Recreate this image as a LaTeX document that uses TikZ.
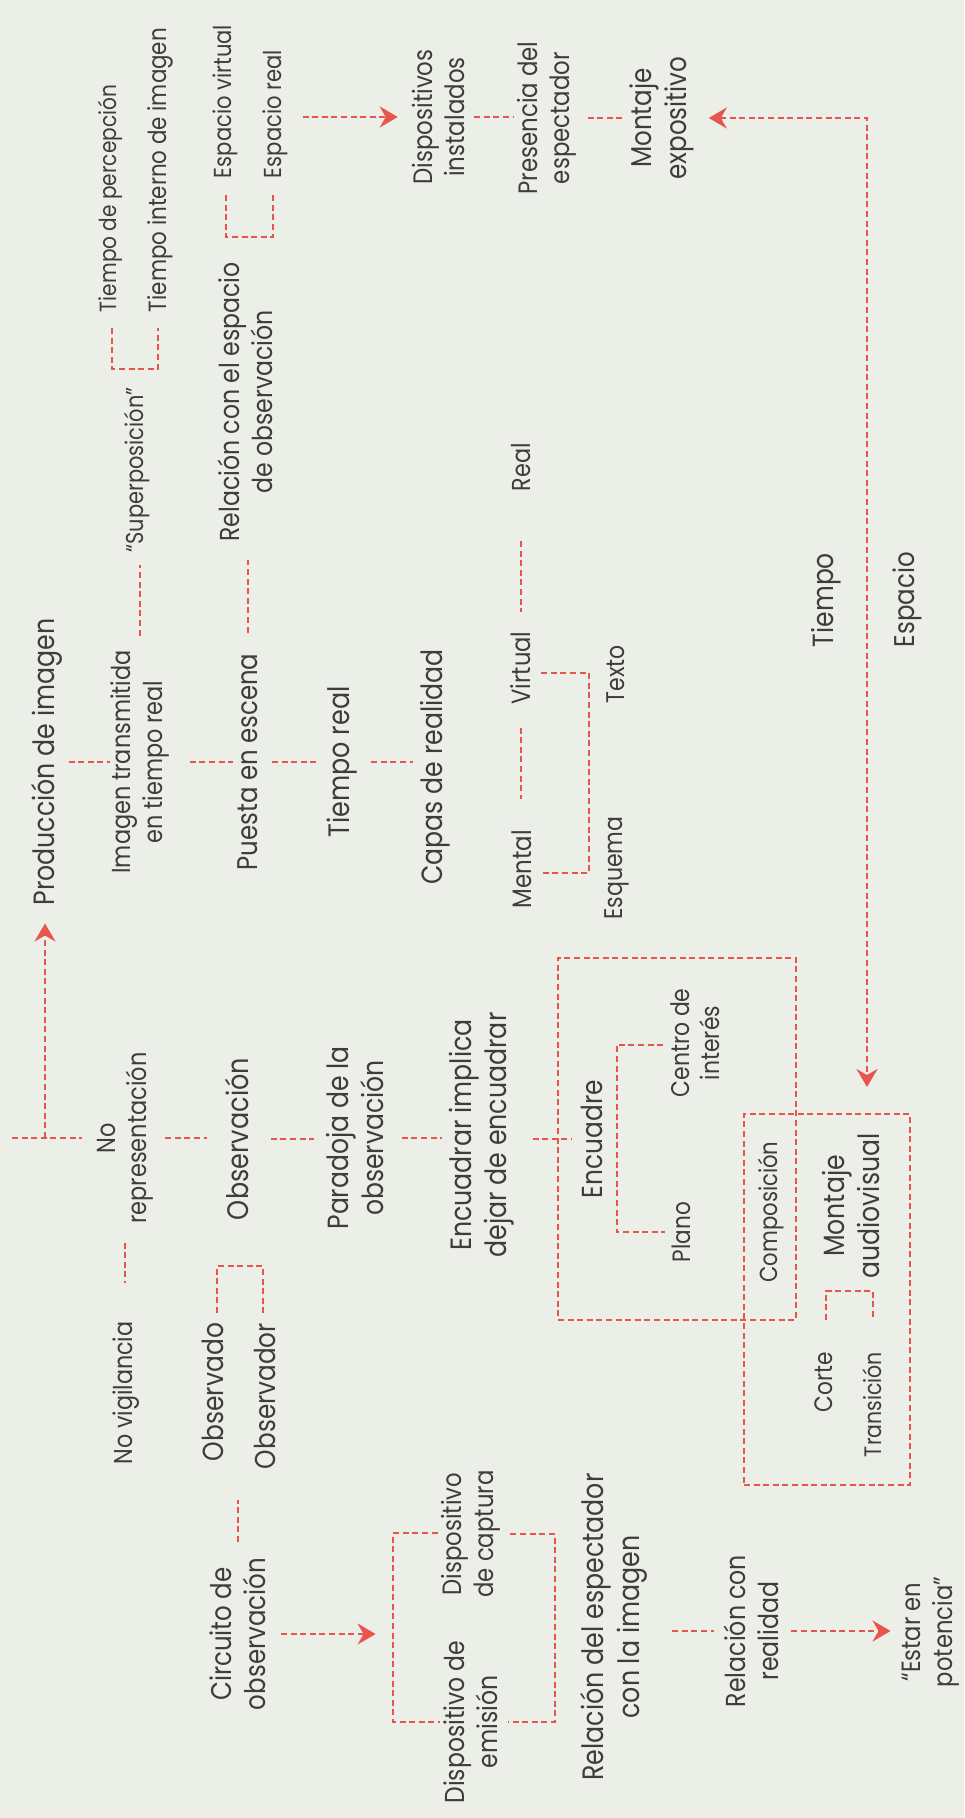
\documentclass[tikz,border=0pt]{standalone}
\usepackage{fontspec}
\setmainfont{Poppins}[FakeStretch=0.86]
\usetikzlibrary{arrows.meta,calc}

\definecolor{paper}{HTML}{ECEEE8}
\definecolor{ink}{HTML}{3D3D3D}
\definecolor{accent}{HTML}{E8554C}

% centred stack of lines, separated by \\
\newcommand\linestack[1]{\vbox{\let\\\cr\tabskip=0pt\halign{\hfil##\hfil\cr#1\crcr}}}
% set a label so that its widest line is #1 pt long
\newsavebox\measurebox
\newlength\labelsize
\newcommand\fit[2]{%
  \sbox\measurebox{\fontsize{20pt}{24pt}\selectfont\linestack{#2}}%
  \setlength\labelsize{\dimexpr 20pt*\number\dimexpr#1pt\relax/\number\wd\measurebox\relax}%
  \fontsize{\labelsize}{1.2\labelsize}\selectfont\linestack{#2}}

\tikzset{
  lbl/.style={rotate=90, text=ink, inner sep=0pt, outer sep=0pt},
  link/.style={draw=accent, line width=2.2pt, dash pattern=on 6pt off 3.6pt},
  tip/.style={-{Stealth[length=18pt,width=21pt,inset=6pt]}},
  frame/.style={draw=accent, line width=2.2pt, dash pattern=on 6pt off 3.6pt,
                inner sep=0pt, outer sep=0pt, fill=none}
}

\begin{document}
\begin{tikzpicture}[x=1pt, y=-1pt]
\useasboundingbox (0,0) rectangle (964,1818);
\fill[paper] (0,0) rectangle (964,1818);

% ---------- image production branch ----------
\node[lbl] (prod)    at (47,762)  {\fit{287}{Producción de imagen}};
\node[lbl] (img)     at (140,762) {\fit{223}{Imagen transmitida\\en tiempo real}};
\node[lbl] (puesta)  at (248,762) {\fit{217}{Puesta en escena}};
\node[lbl] (treal)   at (342,762) {\fit{151}{Tiempo real}};
\node[lbl] (capas)   at (435,767) {\fit{235}{Capas de realidad}};

\node[lbl] (superp)  at (137,470) {\fit{165}{“Superposición”}};
\node[lbl, anchor=west] (tperc) at (110,312) {\fit{227}{Tiempo de percepción}};
\node[lbl, anchor=west] (tint)  at (160,312) {\fit{284}{Tiempo interno de imagen}};

\node[lbl] (relesp)  at (245,402) {\fit{279}{Relación con el espacio\\de observación}};
\node[lbl, anchor=west] (espv) at (225,178) {\fit{153}{Espacio virtual}};
\node[lbl, anchor=west] (espr) at (275,178) {\fit{128}{Espacio real}};

\node[lbl] (dispinst)  at (438,117) {\fit{135}{Dispositivos\\instalados}};
\node[lbl] (presencia) at (547,118) {\fit{153}{Presencia del\\espectador}};
\node[lbl] (montexp)   at (662,118) {\fit{123}{Montaje\\expositivo}};

\node[lbl, anchor=west] (tiempo)  at (826,647) {\fit{94}{Tiempo}};
\node[lbl, anchor=west] (espacio) at (907,647) {\fit{95}{Espacio}};

\node[lbl] (real)    at (521,467) {\fit{48}{Real}};
\node[lbl] (virtual) at (521,668) {\fit{73}{Virtual}};
\node[lbl] (mental)  at (522,869) {\fit{78}{Mental}};
\node[lbl] (texto)   at (616,674) {\fit{58}{Texto}};
\node[lbl] (esquema) at (617,868) {\fit{103}{Esquema}};

% ---------- observation branch ----------
\node[lbl] (norep)     at (125,1138) {\fit{171}{No\\representación}};
\node[lbl] (obs)       at (237,1139) {\fit{162}{Observación}};
\node[lbl] (parad)     at (355,1138) {\fit{183}{Paradoja de la\\observación}};
\node[lbl] (encuadrar) at (482,1135) {\fit{245}{Encuadrar implica\\dejar de encuadrar}};
\node[lbl] (encuadre)  at (592,1139) {\fit{118}{Encuadre}};
\node[lbl] (centro)    at (695,1043) {\fit{109}{Centro de\\interés}};
\node[lbl] (plano)     at (681,1232) {\fit{60}{Plano}};
\node[lbl] (compos)    at (771,1212) {\fit{141}{Composición}};
\node[lbl] (montav)    at (851,1206) {\fit{145}{Montaje\\audiovisual}};
\node[lbl, anchor=east] (corte)      at (824,1352) {\fit{60}{Corte}};
\node[lbl, anchor=east] (transicion) at (872,1352) {\fit{105}{Transición}};

\node[lbl] (novig) at (126,1393) {\fit{143}{No vigilancia}};
\node[lbl, anchor=east] (observado)  at (213,1323) {\fit{138}{Observado}};
\node[lbl, anchor=east] (observador) at (265,1323) {\fit{146}{Observador}};

\node[lbl] (circuito)  at (238,1634) {\fit{152}{Circuito de\\observación}};
\node[lbl] (dispcap)   at (471,1534) {\fit{127}{Dispositivo\\de captura}};
\node[lbl] (dispemi)   at (471,1722) {\fit{163}{Dispositivo de\\emisión}};
\node[lbl] (relespimg) at (614,1627) {\fit{307}{Relación del espectador\\con la imagen}};
\node[lbl] (relreal)   at (751,1631) {\fit{152}{Relación con\\realidad}};
\node[lbl] (estar)     at (931,1632) {\fit{110}{“Estar en\\potencia”}};

% grouping frames
\node[frame, minimum width=238pt, minimum height=362pt] (box1) at (677,1139) {};
\node[frame, minimum width=166pt, minimum height=371pt] (box2) at (827,1299.5) {};

\coordinate (origin) at (12,1138);
\coordinate (branch) at (45,1138);
\coordinate (bend)   at (867,118);

% ---------- connectors ----------
% production chain
\draw[link, shorten <=6pt,  shorten >=1pt]  (prod.south)   -- (prod.south -| img.north);
\draw[link, shorten <=21pt, shorten >=5pt]  (img.south)    -- (img.south -| puesta.north);
\draw[link, shorten <=14pt, shorten >=11pt] (puesta.south) -- (puesta.south -| treal.north);
\draw[link, shorten <=14pt, shorten >=7pt]  (treal.south)  -- (treal.south -| capas.north);
\draw[link, shorten <=15pt, shorten >=12pt] (img.east)     -- (img.east |- superp.west);
\draw[link, shorten <=21pt, shorten >=18pt] (puesta.east)  -- (puesta.east |- relesp.west);

% brackets of the upper levels
\draw[link] ($(tperc.west)+(2,16)$) |- ($(tint.west)+(-2,57)$) -- ($(tint.west)+(-2,16)$);
\draw[link] ($(espv.west)+(1,17)$) |- ($(espr.west)+(-2,59)$) -- ($(espr.west)+(-2,17)$);

% exhibition chain
\draw[link, tip, shorten <=15pt, shorten >=14pt] (espr.south |- dispinst.north) -- (dispinst.north);
\draw[link, shorten <=10pt, shorten >=3pt] (dispinst.south) -- (dispinst.south -| presencia.north);
\draw[link, shorten <=11pt, shorten >=5pt] (presencia.south) -- (presencia.south -| montexp.north);
\draw[link, {Stealth[length=18pt,width=21pt,inset=6pt]}-{Stealth[length=18pt,width=21pt,inset=6pt]},
      shorten <=15pt, shorten >=27pt] (montexp.south) -- (bend) -- (bend |- box2.north);

% layers of reality
\draw[link, shorten <=50pt, shorten >=20pt] (real.west) -- (real.west |- virtual.east);
\draw[link, shorten <=23pt, shorten >=31pt] (virtual.west) -- (virtual.west |- mental.east);
\draw[link] ($(virtual.south)+(10,5)$) -| ($(mental.south)+(57,4)$) -- ($(mental.south)+(10,4)$);

% observation chain
\draw[link, shorten >=15pt] (origin) -- (origin -| norep.north);
\draw[link, tip, shorten >=18pt] (branch) -- (branch |- prod.west);
\draw[link, shorten <=12pt, shorten >=18pt] (norep.south) -- (norep.south -| obs.north);
\draw[link, shorten <=22pt, shorten >=12pt] (obs.south) -- (obs.south -| parad.north);
\draw[link, shorten <=18pt, shorten >=7pt]  (parad.south) -- (parad.south -| encuadrar.north);
\draw[link, shorten <=18pt, shorten >=9pt]  (encuadrar.south |- encuadre.north) -- (encuadre.north);
\draw[link] ($(centro.north)+(-7,2)$) -| ($(plano.north)+(-55,0)$) -- ($(plano.north)+(-7,0)$);
\draw[link] ($(corte.east)+(2,-32)$) |- ($(transicion.east)+(1,-61)$) -- ($(transicion.east)+(1,-32)$);

\draw[link, shorten <=19pt, shorten >=39pt] (norep.west) -- (norep.west |- novig.east);
\draw[link] ($(observado.east)+(4,-10)$) |- ($(observador.east)+(-2,-57)$) -- ($(observador.east)+(-2,-10)$);
\draw[link, shorten <=16pt, shorten >=31pt] (circuito.east) -- (circuito.east |- observador.west);

% devices and spectator
\draw[link, tip, shorten <=15pt, shorten >=66pt] (circuito.south) -- (circuito.south -| dispcap.north);
\draw[link] ($(dispcap.north)+(-4,-1)$) -| ($(dispemi.north)+(-51,0)$) -- ($(dispemi.north)+(-4,0)$);
\draw[link] ($(dispcap.south)+(10,0)$) -| ($(dispemi.south)+(57,0)$) -- ($(dispemi.south)+(10,0)$);
\draw[link, shorten <=25pt, shorten >=10pt] (relespimg.south |- relreal.north) -- (relreal.north);
\draw[link, tip, shorten <=13pt, shorten >=12pt] (relreal.south) -- (relreal.south -| estar.north);
\end{tikzpicture}
\end{document}
